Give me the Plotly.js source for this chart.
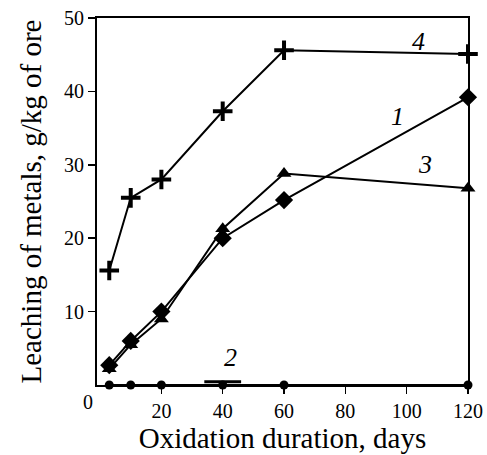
<!DOCTYPE html>
<html>
<head>
<meta charset="utf-8">
<script src="https://cdn.plot.ly/plotly-3.0.1.min.js"></script>
<style>html,body{margin:0;padding:0;background:#fff;}#chart{width:487px;height:455px;}</style>
</head>
<body>
<div id="chart"></div>
<script>
const days = [3, 10, 20, 40, 60, 120];
const curve1 = [2.7, 6.0, 10.0, 20.0, 25.2, 39.2];
const curve2 = [0, 0, 0, 0, 0, 0];
const curve2ErrX = [0, 0, 0, 6, 0, 0];
const curve2ErrLevel = [0, 0, 0, 0.45, 0, 0];
const curve3 = [2.2, 5.5, 9.0, 21.3, 28.8, 26.8];
const curve4 = [15.6, 25.5, 28.0, 37.3, 45.6, 45.1];
const xTicks = [20, 40, 60, 80, 100, 120];
const yTicks = [10, 20, 30, 40, 50];

const font = 'Liberation Serif';
const lineStyle = {color: '#000', width: 2};

// horizontal error bars of curve 2, built from the arrays above
const errX = [], errY = [];
days.forEach((d, i) => {
  if (curve2ErrX[i] > 0) {
    errX.push(d - curve2ErrX[i], d + curve2ErrX[i], null);
    errY.push(curve2ErrLevel[i], curve2ErrLevel[i], null);
  }
});

const traces = [
  {x: errX, y: errY, mode: 'lines', line: {color: '#000', width: 3}, cliponaxis: false, showlegend: false},
  {x: days, y: curve2, mode: 'lines+markers', line: lineStyle,
   marker: {symbol: 'circle', size: 9, color: '#000'}, cliponaxis: false, showlegend: false},
  {x: days, y: curve1, mode: 'lines+markers', line: lineStyle,
   marker: {symbol: 'diamond', size: 14, color: '#000'}, cliponaxis: false, showlegend: false},
  {x: days, y: curve3, mode: 'lines+markers', line: lineStyle,
   marker: {symbol: 'triangle-up', size: 13, color: '#000'}, cliponaxis: false, showlegend: false},
  {x: days, y: curve4, mode: 'lines+markers', line: lineStyle,
   marker: {symbol: 'cross-thin', size: 14, color: '#000', line: {color: '#000', width: 4}}, cliponaxis: false, showlegend: false}
];

const labelFont = {family: font, size: 26, color: '#000', style: 'italic'};
const layout = {
  width: 487, height: 455,
  margin: {l: 97, r: 19, t: 18, b: 70},
  paper_bgcolor: '#fff', plot_bgcolor: '#fff',
  font: {family: font, color: '#000'},
  xaxis: {
    range: [-1, 120], tickvals: xTicks, ticks: 'outside', ticklen: 7, tickwidth: 1.5, tickcolor: '#000',
    showline: true, linecolor: '#000', linewidth: 2, mirror: true, showgrid: false, zeroline: false,
    tickfont: {family: font, size: 20, color: '#000'},
    title: {text: 'Oxidation duration, days', font: {family: font, size: 29, color: '#000'}, standoff: 6}
  },
  yaxis: {
    range: [0, 50], tickvals: yTicks, ticks: 'outside', ticklen: 7, tickwidth: 1.5, tickcolor: '#000',
    showline: true, linecolor: '#000', linewidth: 2, mirror: true, showgrid: false, zeroline: false,
    tickfont: {family: font, size: 20, color: '#000'},
    title: {text: 'Leaching of metals, g/kg of ore', font: {family: font, size: 29, color: '#000'}, standoff: 14}
  },
  annotations: [
    {x: 104, y: 46.8, text: '4', showarrow: false, font: labelFont},
    {x: 97, y: 36.6, text: '1', showarrow: false, font: labelFont},
    {x: 106, y: 30, text: '3', showarrow: false, font: labelFont},
    {x: 42.4, y: 3.8, text: '2', showarrow: false, font: labelFont},
    {xref: 'paper', yref: 'paper', x: -0.025, y: -0.01, xanchor: 'center', yanchor: 'top',
     text: '0', showarrow: false, font: {family: font, size: 20, color: '#000'}}
  ]
};

Plotly.newPlot('chart', traces, layout, {displayModeBar: false, staticPlot: true});
</script>
</body>
</html>
